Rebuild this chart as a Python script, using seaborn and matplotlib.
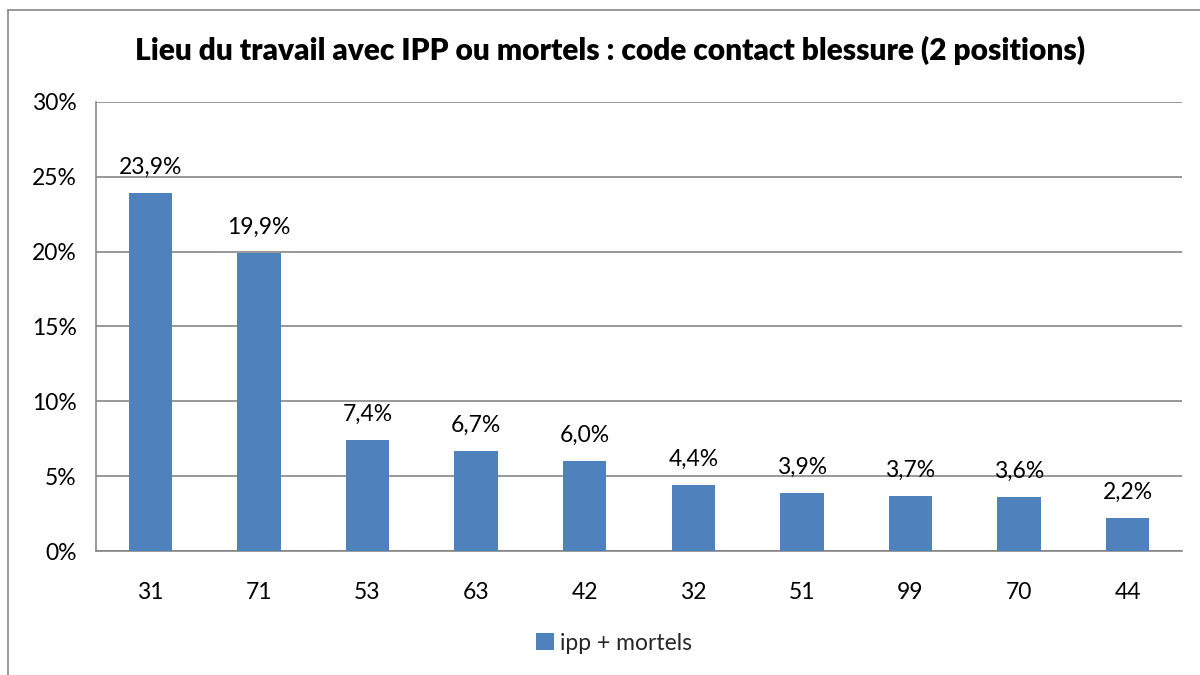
import numpy as np
import pandas as pd
import matplotlib
matplotlib.use("Agg")
import matplotlib.pyplot as plt
import seaborn as sns
from matplotlib.lines import Line2D
from matplotlib.patches import Patch

# Data
codes = ["31", "71", "53", "63", "42", "32", "51", "99", "70", "44"]
values = [23.9, 19.9, 7.4, 6.7, 6.0, 4.4, 3.9, 3.7, 3.6, 2.2]
labels = ["23,9%", "19,9%", "7,4%", "6,7%", "6,0%", "4,4%", "3,9%", "3,7%", "3,6%", "2,2%"]
yticks = [0, 5, 10, 15, 20, 25, 30]

df = pd.DataFrame({"code": codes, "pct": values})

sns.set_theme(style="white")
plt.rcParams['font.family'] = ['Lato', 'DejaVu Sans']

bar_color = "#4F81BD"
grid_color = "#868686"
fs = 16.5

fig = plt.figure(figsize=(12, 6.75), dpi=100)
ax = fig.add_axes([0.08, 0.1837, 0.905, 0.6653])

sns.barplot(data=df, x="code", y="pct", color=bar_color, width=0.4,
            saturation=1, linewidth=0, ax=ax, zorder=3)

# data labels
for i, (v, t) in enumerate(zip(values, labels)):
    ax.text(i, v + 1.0, t, ha="center", va="bottom", fontsize=fs, color="black")

ax.set_xlim(-0.5, len(codes) - 0.5)
ax.set_ylim(0, 30)
ax.set_yticks(yticks)
ax.set_yticklabels([f"{t}%" for t in yticks], fontsize=fs, color="black")
ax.yaxis.grid(True, color=grid_color, linewidth=1.2, zorder=0)
ax.set_axisbelow(True)

# x ticks at category boundaries
ax.set_xticks(np.arange(len(codes)))
ax.set_xticklabels(codes, fontsize=fs, color="black")
ax.set_xticks(np.arange(-0.5, len(codes)), minor=True)
ax.tick_params(axis="x", which="major", length=0, pad=22)
ax.tick_params(axis="x", which="minor", length=8, width=1.2, color=grid_color, direction="out")
ax.tick_params(axis="y", length=8, width=1.2, color=grid_color, direction="out", pad=6)
ax.set_xlabel("")
ax.set_ylabel("")

for side in ["top", "right"]:
    ax.spines[side].set_visible(False)
for side in ["left", "bottom"]:
    ax.spines[side].set_color(grid_color)
    ax.spines[side].set_linewidth(1.2)

fig.text(0.508, 0.925, "Lieu du travail avec IPP ou mortels : code contact blessure (2 positions)",
         ha="center", va="center", fontsize=21.5, fontweight="heavy", color="black")

handle = Patch(facecolor=bar_color, edgecolor="none", label="ipp + mortels")
fig.legend(handles=[handle], loc="center", bbox_to_anchor=(0.512, 0.047), frameon=False,
           fontsize=fs, handlelength=0.75, handleheight=0.75, handletextpad=0.3)

# chart border (left and top visible)
fig.add_artist(Line2D([8 / 1200, 8 / 1200], [0, 1 - 10 / 675], transform=fig.transFigure,
                      color=grid_color, linewidth=1.2))
fig.add_artist(Line2D([8 / 1200, 1], [1 - 10 / 675, 1 - 10 / 675], transform=fig.transFigure,
                      color=grid_color, linewidth=1.2))

fig.savefig("out.png", dpi=100)
